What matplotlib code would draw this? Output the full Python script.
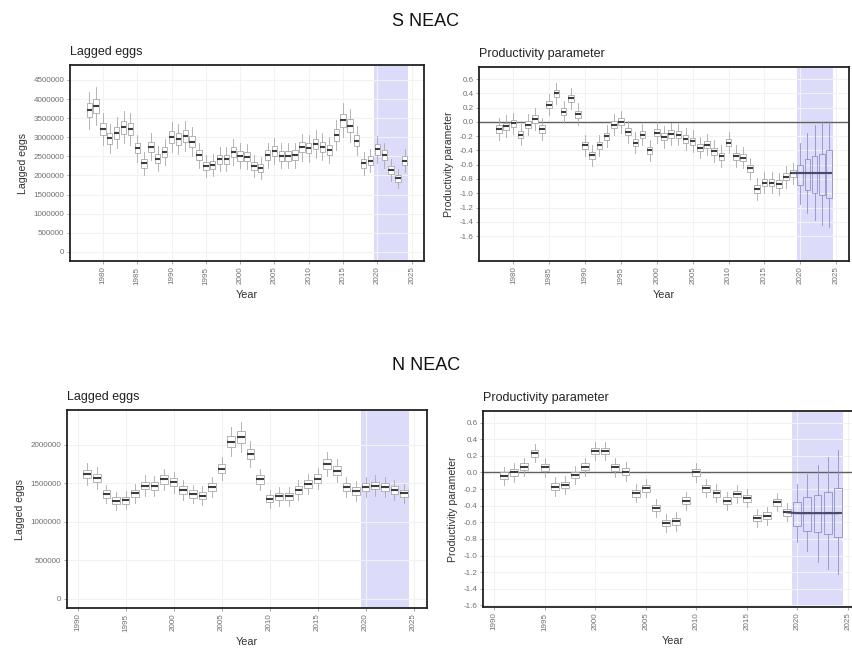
import matplotlib.pyplot as plt
import numpy as np

plt.rcParams['font.family'] = ['Liberation Sans', 'DejaVu Sans']

# ---- data ----
years_s = np.arange(1978, 2025)
years_n = np.arange(1991, 2025)
fc_years = [2020, 2021, 2022, 2023, 2024]

# S NEAC lagged eggs (median per year)
s_eggs = [3710, 3820, 3210, 2970, 3120, 3260, 3210, 2710, 2320, 2750,
          2440, 2620, 3000, 2950, 3030, 2880, 2530, 2250, 2270, 2420,
          2420, 2620, 2510, 2490, 2250, 2200, 2530, 2640, 2510, 2510,
          2530, 2740, 2710, 2820, 2750, 2670, 3060, 3440, 3300, 2910,
          2320, 2390, 2680, 2530, 2140, 1920, 2390]
s_eggs = [v * 1000 for v in s_eggs]

# S NEAC productivity (1978-2019), forecast 2020-2024
s_prod = [-0.10, -0.06, -0.02, -0.18, -0.04, 0.04, -0.10, 0.24, 0.40, 0.14,
          0.33, 0.11, -0.33, -0.47, -0.33, -0.20, -0.04, 0.00, -0.14, -0.29,
          -0.18, -0.40, -0.15, -0.21, -0.17, -0.18, -0.24, -0.27, -0.36, -0.32,
          -0.41, -0.48, -0.29, -0.48, -0.50, -0.65, -0.94, -0.85, -0.85, -0.87,
          -0.77, -0.72]
s_fc_med = [-0.72, -0.72, -0.72, -0.72, -0.72]
s_fc_q1 = [-0.88, -0.95, -1.00, -1.03, -1.06]
s_fc_q3 = [-0.60, -0.52, -0.48, -0.45, -0.40]
s_fc_lo = [-1.15, -1.28, -1.38, -1.45, -1.48]
s_fc_hi = [-0.30, -0.15, -0.05, 0.00, 0.00]

# N NEAC lagged eggs
n_eggs = [1620, 1570, 1360, 1270, 1280, 1370, 1470, 1460, 1550, 1510,
          1410, 1360, 1340, 1450, 1690, 2040, 2100, 1880, 1550, 1300,
          1330, 1330, 1410, 1490, 1560, 1750, 1660, 1450, 1400, 1450,
          1470, 1450, 1410, 1370]
n_eggs = [v * 1000 for v in n_eggs]

# N NEAC productivity (1991-2019), forecast 2020-2024
n_prod = [-0.04, 0.00, 0.07, 0.23, 0.06, -0.17, -0.15, -0.03, 0.07, 0.26,
          0.26, 0.06, 0.01, -0.25, -0.19, -0.43, -0.61, -0.59, -0.34, 0.00,
          -0.19, -0.25, -0.34, -0.26, -0.31, -0.55, -0.52, -0.36, -0.48]
n_fc_med = [-0.49, -0.49, -0.49, -0.49, -0.49]
n_fc_q1 = [-0.64, -0.70, -0.72, -0.74, -0.78]
n_fc_q3 = [-0.35, -0.30, -0.27, -0.23, -0.19]
n_fc_lo = [-0.84, -0.95, -1.08, -1.16, -1.22]
n_fc_hi = [-0.14, -0.02, 0.09, 0.19, 0.27]

# approximate spreads (box half height, whisker reach)
s_eggs_box, s_eggs_wh = 0.05, 0.13      # relative
n_eggs_box, n_eggs_wh = 0.035, 0.09     # relative
s_prod_box, s_prod_wh = 0.05, 0.15      # absolute
n_prod_box, n_prod_wh = 0.04, 0.11      # absolute

prod_ticks = [-1.6, -1.4, -1.2, -1.0, -0.8, -0.6, -0.4, -0.2, 0.0, 0.2, 0.4, 0.6]
prod_labels = ['-1.6', '-1.4', '-1.2', '-1.0', '-0.8', '-0.6', '-0.4', '-0.2',
               '0.0', '0.2', '0.4', '0.6']

SHADE = '#dcdcfa'
BOX_EDGE = '#a8a8a8'
FC_EDGE = '#9090c8'


def stats_from(med, q1, q3, lo, hi):
    return [dict(med=m, q1=a, q3=b, whislo=c, whishi=d, fliers=[])
            for m, a, b, c, d in zip(med, q1, q3, lo, hi)]


def draw_boxes(ax, pos, st, edge, face, medcol):
    ax.bxp(st, positions=pos, widths=0.78, patch_artist=True,
           showfliers=False, showcaps=False, manage_ticks=False,
           boxprops=dict(facecolor=face, edgecolor=edge, linewidth=0.6),
           whiskerprops=dict(color=edge, linewidth=0.6),
           medianprops=dict(color=medcol, linewidth=1.5, solid_capstyle='butt'),
           zorder=3)


def style(ax, xlim, xticks, ylim, yticks, ylabels, ylabel, title):
    ax.set_xlim(*xlim)
    ax.set_ylim(*ylim)
    ax.set_xticks(xticks)
    ax.set_xticklabels([str(t) for t in xticks], rotation=90)
    ax.set_yticks(yticks)
    ax.set_yticklabels(ylabels)
    ax.grid(True, color='#f2f2f2', linewidth=0.8, zorder=0)
    ax.set_axisbelow(True)
    ax.tick_params(length=2, width=0.6, color='#999999', labelcolor='#707070',
                   labelsize=5.8, pad=2)
    for sp in ax.spines.values():
        sp.set_linewidth(1.3)
        sp.set_color('#222222')
    ax.set_ylabel(ylabel, fontsize=7.6, color='#333333', labelpad=4)
    ax.set_xlabel('Year', fontsize=7.8, color='#333333', labelpad=4)
    ax.set_title(title, loc='left', fontsize=9, color='#222222', pad=7)
    ax.axvspan(2019.5, 2024.5, color=SHADE, linewidth=0, zorder=0.5)


def eggs_panel(ax, years, med, box, wh, xlim, xticks, ylim, yticks):
    med = np.array(med, dtype=float)
    st = stats_from(med, med * (1 - box), med * (1 + box),
                    med * (1 - wh), med * (1 + wh))
    draw_boxes(ax, years, st, BOX_EDGE, 'white', '#3c3c3c')
    style(ax, xlim, xticks, ylim, yticks, [str(v) for v in yticks],
          'Lagged eggs', 'Lagged eggs')


def prod_panel(ax, years, med, box, wh, fmed, fq1, fq3, flo, fhi,
               xlim, xticks, ylim):
    med = np.array(med, dtype=float)
    yrs = years[:len(med)]
    st = stats_from(med, med - box, med + box, med - wh, med + wh)
    ax.axhline(0, color='#606060', linewidth=1.0, zorder=2)
    draw_boxes(ax, yrs, st, BOX_EDGE, 'white', '#3c3c3c')
    fst = stats_from(fmed, fq1, fq3, flo, fhi)
    draw_boxes(ax, fc_years, fst, FC_EDGE, 'none', '#4a4a6a')
    ax.plot([yrs[-1]] + fc_years, [med[-1]] + fmed, color='#4a4a6a',
            linewidth=1.5, zorder=4)
    style(ax, xlim, xticks, ylim, prod_ticks, prod_labels,
          'Productivity parameter', 'Productivity parameter')


W, H = 852, 649
fig = plt.figure(figsize=(W / 100, H / 100), dpi=100)


def add_ax(x0, x1, y0, y1):
    return fig.add_axes([x0 / W, 1 - y1 / H, (x1 - x0) / W, (y1 - y0) / H])


ax1 = add_ax(70, 424, 65, 261)
ax2 = add_ax(479, 849, 67, 261)
ax3 = add_ax(67, 427, 410, 608)
ax4 = add_ax(483, 862, 411, 607)

eggs_panel(ax1, years_s, s_eggs, s_eggs_box, s_eggs_wh,
           (1975.2, 2026.8), list(range(1980, 2026, 5)),
           (-240000, 4890000), list(range(0, 4500001, 500000)))
prod_panel(ax2, years_s, s_prod, s_prod_box, s_prod_wh,
           s_fc_med, s_fc_q1, s_fc_q3, s_fc_lo, s_fc_hi,
           (1975.2, 2026.8), list(range(1980, 2026, 5)), (-1.95, 0.77))
eggs_panel(ax3, years_n, n_eggs, n_eggs_box, n_eggs_wh,
           (1988.9, 2026.4), list(range(1990, 2026, 5)),
           (-120000, 2450000), list(range(0, 2000001, 500000)))
prod_panel(ax4, years_n, n_prod, n_prod_box, n_prod_wh,
           n_fc_med, n_fc_q1, n_fc_q3, n_fc_lo, n_fc_hi,
           (1988.9, 2026.4), list(range(1990, 2026, 5)), (-1.62, 0.74))

fig.text(0.5, 1 - 22 / H, 'S NEAC', ha='center', va='center', fontsize=13, color='#111111')
fig.text(0.5, 1 - 366 / H, 'N NEAC', ha='center', va='center', fontsize=13, color='#111111')

fig.savefig('out.png', dpi=100)
